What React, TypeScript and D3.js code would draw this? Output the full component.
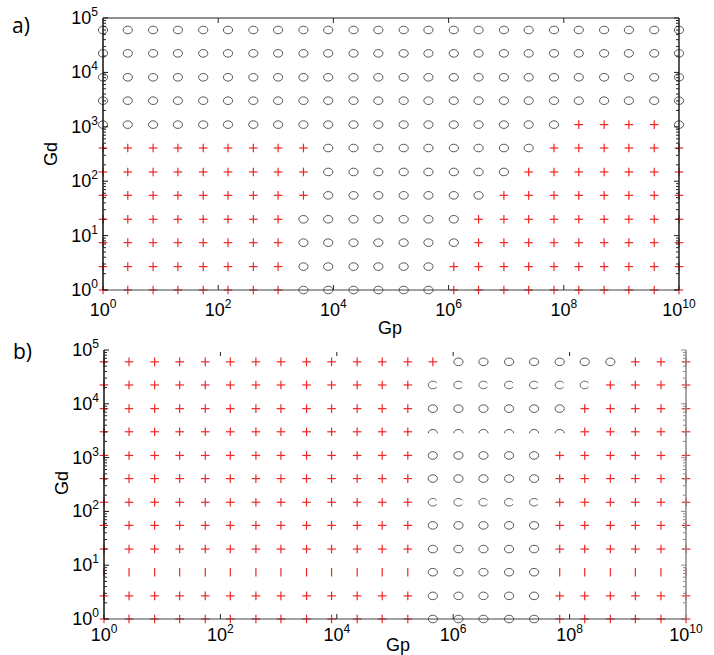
import React from 'react';
import * as d3 from 'd3';

// log10 of the Gp grid values (columns) and Gd grid values (rows)
const gpExp = [0, 0.43, 0.87, 1.3, 1.74, 2.17, 2.61, 3.04, 3.48, 3.91, 4.35, 4.78,
  5.22, 5.65, 6.09, 6.52, 6.96, 7.39, 7.83, 8.26, 8.7, 9.13, 9.57, 10];
const gdExp = [0, 0.43, 0.87, 1.3, 1.74, 2.17, 2.61, 3.04, 3.48, 3.91, 4.35, 4.78];

// marker per cell, top row (largest Gd) first: o circle, + cross, | bar,
// c / n = circle drawn only partly (as in the picture)
const gridA = [
  'oooooooooooooooooooooooo',
  'oooooooooooooooooooooooo',
  'oooooooooooooooooooooooo',
  'oooooooooooooooooooooooo',
  'ooooooooooooooooooo++++o',
  '+++++++++ooooooooo++++++',
  '+++++++++oooooooo+++++++',
  '+++++++++ooooooo++++++++',
  '++++++++ooooooo+++++++++',
  '++++++++ooooooo+++++++++',
  '++++++++oooooo++++++++++',
  '++++++++oooooo++++++++++',
];
const gridB = [
  '++++++++++++++ooooooo+++',
  '+++++++++++++ccccccc++++',
  '+++++++++++++oooooo+++++',
  '+++++++++++++nnnnnn+++++',
  '+++++++++++++ooooo++++++',
  '+++++++++++++ooooo++++++',
  '+++++++++++++ccccc++++++',
  '+++++++++++++ooooo++++++',
  '+++++++++++++ooooo++++++',
  '|||||||||||||ooooo||||||',
  '+++++++++++++ooooo++++++',
  '+++++++++++++ooooo++++++',
];

const xTickExp = [0, 2, 4, 6, 8, 10];
const yTickExp = [0, 1, 2, 3, 4, 5];

const panels = [
  { name: 'a)', grid: gridA, l: 103, r: 679, t: 18, b: 290, topLine: true, rightColor: '#222',
    labelX: 12, labelY: 33, xLabY: 316, gpX: 390, gpY: 334, gdX: 57, gdY: 154 },
  { name: 'b)', grid: gridB, l: 104, r: 686, t: 350, b: 619, topLine: false, rightColor: '#888',
    labelX: 13, labelY: 359, xLabY: 641, gpX: 398, gpY: 651, gdX: 68, gdY: 483 },
];

const font = '"Liberation Sans", Arial, sans-serif';

function Marker({ kind, x, y }: { kind: string; x: number; y: number }) {
  const rx = 4.6, ry = 3.8, h = 4.3;
  const red = '#f01010';
  if (kind === '+') {
    return (
      <g stroke={red} strokeWidth={1.2} opacity={0.9}>
        <line x1={x - h} x2={x + h} y1={y} y2={y} />
        <line x1={x} x2={x} y1={y - h} y2={y + h} />
      </g>
    );
  }
  if (kind === '|') {
    return <line x1={x} x2={x} y1={y - h} y2={y + h} stroke={red} strokeWidth={1.2} opacity={0.9} />;
  }
  if (kind === 'c') {
    const a = Math.PI / 6;
    const d = `M${x + rx * Math.cos(-a)},${y + ry * Math.sin(-a)} A${rx},${ry} 0 1 0 ${x + rx * Math.cos(a)},${y + ry * Math.sin(a)}`;
    return <path d={d} fill="none" stroke="#666" strokeWidth={1} />;
  }
  if (kind === 'n') {
    const d = `M${x - rx},${y + 1.5} A${rx},${ry} 0 0 1 ${x + rx},${y + 1.5}`;
    return <path d={d} fill="none" stroke="#555" strokeWidth={1} />;
  }
  return <ellipse cx={x} cy={y} rx={rx} ry={ry} fill="none" stroke="#555" strokeWidth={1} />;
}

function Panel({ p }: { p: typeof panels[number] }) {
  const x = d3.scaleLog().domain([1, 1e10]).range([p.l, p.r]);
  const y = d3.scaleLog().domain([1, 1e5]).range([p.b, p.t]);
  const minor: number[] = [];
  for (let e = 0; e < 5; e++) for (let m = 2; m <= 9; m++) minor.push(m * 10 ** e);
  const nRows = p.grid.length;

  return (
    <g>
      <text x={p.labelX} y={p.labelY} fontFamily='"Open Sans", sans-serif' fontSize={21}>{p.name}</text>

      {/* markers */}
      {p.grid.map((row, i) =>
        row.split('').map((kind, k) => (
          <Marker key={`${i}-${k}`} kind={kind}
            x={x(10 ** gpExp[k])} y={y(10 ** gdExp[nRows - 1 - i])} />
        ))
      )}

      {/* axes */}
      <line x1={p.l} x2={p.r} y1={p.b} y2={p.b} stroke="#444" strokeWidth={1} />
      {p.topLine && <line x1={p.l} x2={p.r} y1={p.t} y2={p.t} stroke="#222" strokeWidth={1} />}
      <line x1={p.l} x2={p.l} y1={p.t} y2={p.b} stroke="#111" strokeWidth={1.5} />
      <line x1={p.r} x2={p.r} y1={p.t} y2={p.b} stroke={p.rightColor} strokeWidth={1.5} />

      {xTickExp.slice(1, -1).map(e => (
        <g key={`xt${e}`} stroke="#222" strokeWidth={1}>
          <line x1={x(10 ** e)} x2={x(10 ** e)} y1={p.b} y2={p.b - 5} />
          <line x1={x(10 ** e)} x2={x(10 ** e)} y1={p.t + (p.topLine ? 0 : 2)} y2={p.t + (p.topLine ? 5 : 6)} />
        </g>
      ))}
      {yTickExp.map(e => (
        <g key={`yt${e}`} strokeWidth={1}>
          <line x1={p.l} x2={p.l + 5} y1={y(10 ** e)} y2={y(10 ** e)} stroke="#111" />
          <line x1={p.r} x2={p.r - 5} y1={y(10 ** e)} y2={y(10 ** e)} stroke={p.rightColor} />
        </g>
      ))}
      {minor.map(v => (
        <g key={`ym${v}`} strokeWidth={1}>
          <line x1={p.l} x2={p.l + 3} y1={y(v)} y2={y(v)} stroke="#222" />
          <line x1={p.r} x2={p.r - 3} y1={y(v)} y2={y(v)} stroke={p.rightColor} />
        </g>
      ))}

      {/* tick labels */}
      {xTickExp.map(e => (
        <text key={`xl${e}`} x={x(10 ** e)} y={p.xLabY} textAnchor="middle" fontFamily={font} fontSize={18}>
          10<tspan fontSize={12} dy={-8}>{e}</tspan>
        </text>
      ))}
      {yTickExp.map(e => (
        <text key={`yl${e}`} x={p.l - 5} y={y(10 ** e) + 6} textAnchor="end" fontFamily={font} fontSize={18}>
          10<tspan fontSize={12} dy={-8}>{e}</tspan>
        </text>
      ))}

      <text x={p.gpX} y={p.gpY} textAnchor="middle" fontFamily={font} fontSize={18}>Gp</text>
      <text transform={`translate(${p.gdX},${p.gdY}) rotate(-90)`} textAnchor="middle"
        fontFamily={font} fontSize={18}>Gd</text>
    </g>
  );
}

export default function App() {
  return (
    <svg width={714} height={655} style={{ position: 'absolute', left: 0, top: 0, background: '#fff' }}>
      {panels.map(p => <Panel key={p.name} p={p} />)}
    </svg>
  );
}
